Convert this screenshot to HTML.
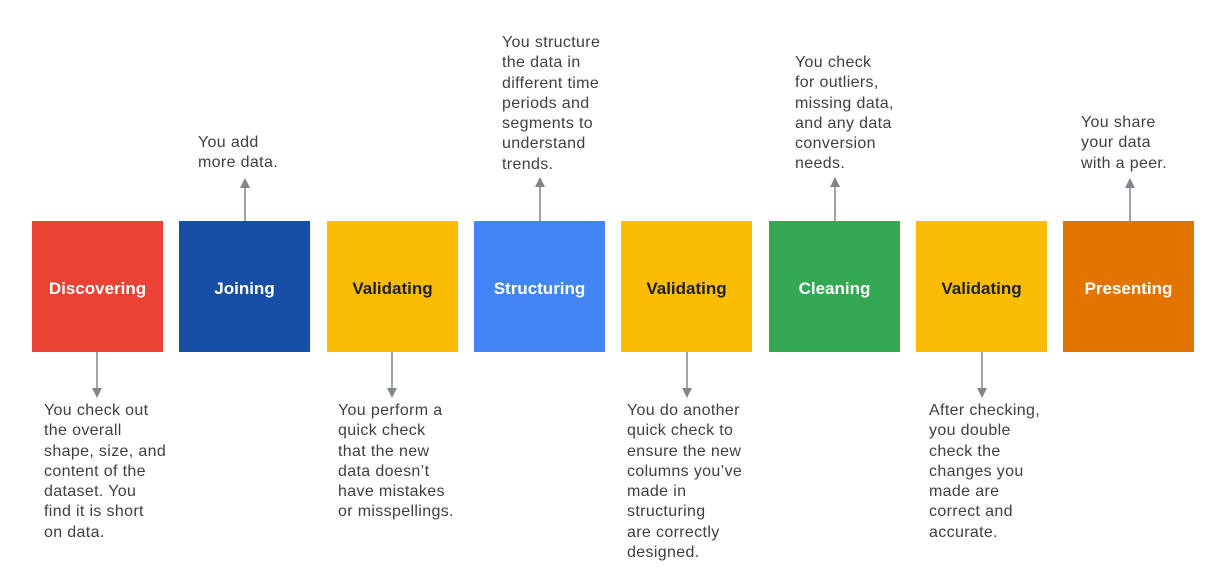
<!DOCTYPE html>
<html><head><style>
body{margin:0;width:1232px;height:570px;background:#fff;position:relative;overflow:hidden;font-family:"Liberation Sans",Arial,sans-serif}
.b{position:absolute;top:221px;width:131px;height:131px;display:flex;align-items:center;justify-content:center;color:#fff;font-weight:bold;font-size:17px;padding-top:5px;box-sizing:border-box}
.t{position:absolute;font-size:16px;letter-spacing:0.35px;line-height:20.3px;color:#3c4043;white-space:nowrap}
</style></head><body>
<div class="b" style="left:32px;background:#EA4335">Discovering</div>
<div class="b" style="left:179px;background:#174EA6">Joining</div>
<div class="b" style="left:327px;background:#FBBC04;color:#202124">Validating</div>
<div class="b" style="left:474px;background:#4285F4">Structuring</div>
<div class="b" style="left:621px;background:#FBBC04;color:#202124">Validating</div>
<div class="b" style="left:769px;background:#34A853">Cleaning</div>
<div class="b" style="left:916px;background:#FBBC04;color:#202124">Validating</div>
<div class="b" style="left:1063px;background:#E37400">Presenting</div>
<svg style="position:absolute;left:0;top:0" width="1232" height="570">
<g stroke="#80868b" stroke-width="1.5" fill="#80868b">
<line x1="245" y1="221" x2="245" y2="186"/><polygon points="240,188 250,188 245,178" stroke="none"/>
<line x1="540" y1="221" x2="540" y2="185"/><polygon points="535,187 545,187 540,177" stroke="none"/>
<line x1="835" y1="221" x2="835" y2="185"/><polygon points="830,187 840,187 835,177" stroke="none"/>
<line x1="1130" y1="221" x2="1130" y2="186"/><polygon points="1125,188 1135,188 1130,178" stroke="none"/>
<line x1="97" y1="352" x2="97" y2="390"/><polygon points="92,388 102,388 97,398" stroke="none"/>
<line x1="392" y1="352" x2="392" y2="390"/><polygon points="387,388 397,388 392,398" stroke="none"/>
<line x1="687" y1="352" x2="687" y2="390"/><polygon points="682,388 692,388 687,398" stroke="none"/>
<line x1="982" y1="352" x2="982" y2="390"/><polygon points="977,388 987,388 982,398" stroke="none"/>
</g></svg>
<div class="t" style="left:198px;top:133px">You add<br>more data.</div>
<div class="t" style="left:502px;top:33px">You structure<br>the data in<br>different time<br>periods and<br>segments to<br>understand<br>trends.</div>
<div class="t" style="left:795px;top:53px">You check<br>for outliers,<br>missing data,<br>and any data<br>conversion<br>needs.</div>
<div class="t" style="left:1081px;top:113px">You share<br>your data<br>with a peer.</div>
<div class="t" style="left:44px;top:401px">You check out<br>the overall<br>shape, size, and<br>content of the<br>dataset. You<br>find it is short<br>on data.</div>
<div class="t" style="left:338px;top:401px">You perform a<br>quick check<br>that the new<br>data doesn’t<br>have mistakes<br>or misspellings.</div>
<div class="t" style="left:627px;top:401px">You do another<br>quick check to<br>ensure the new<br>columns you’ve<br>made in<br>structuring<br>are correctly<br>designed.</div>
<div class="t" style="left:929px;top:401px">After checking,<br>you double<br>check the<br>changes you<br>made are<br>correct and<br>accurate.</div>
</body></html>
